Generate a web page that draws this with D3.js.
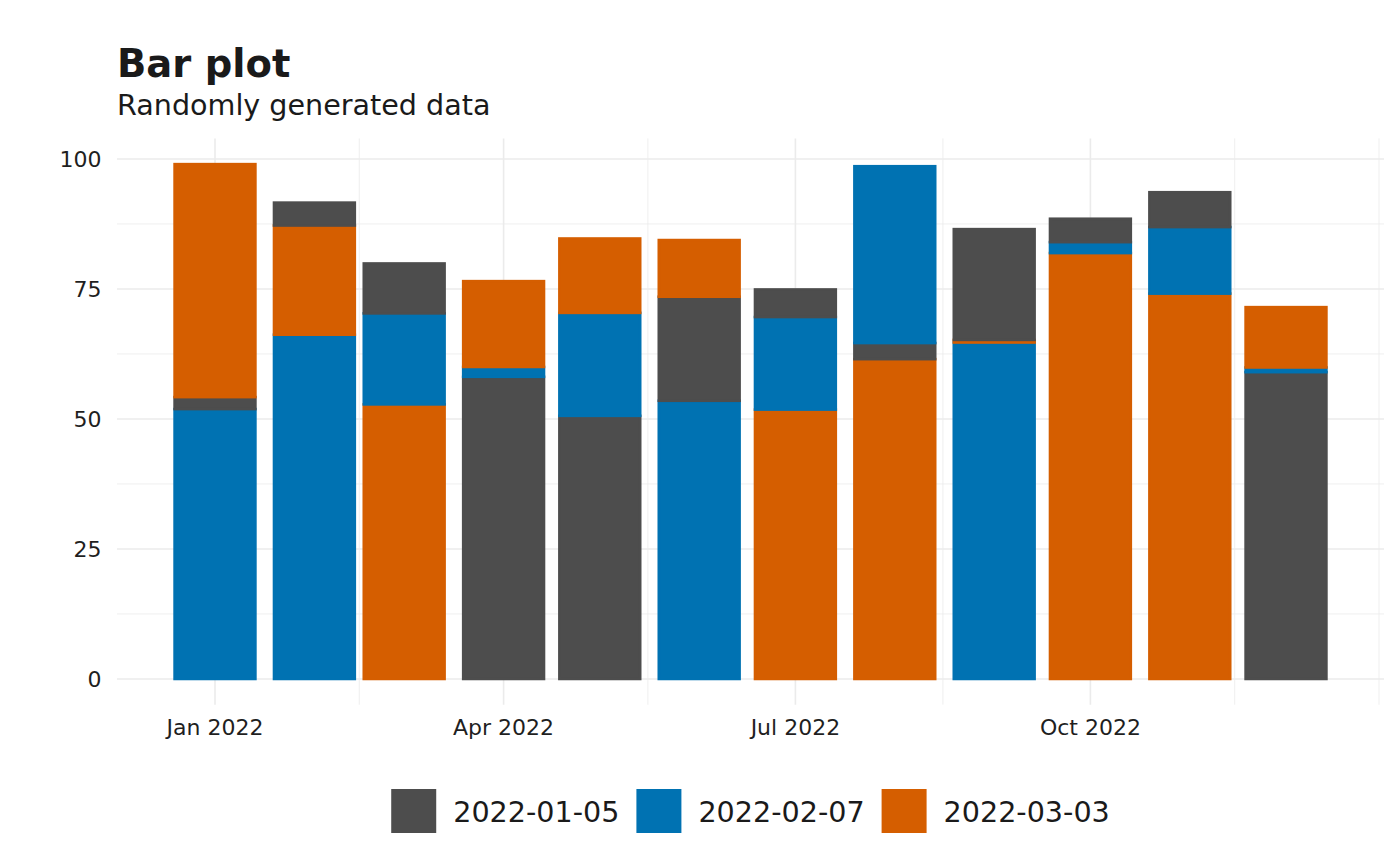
<!DOCTYPE html>
<html>
<head>
<meta charset="utf-8">
<script src="https://cdn.jsdelivr.net/npm/d3@7"></script>
<style>
  body { margin: 0; background: #fff; }
  text { font-family: "DejaVu Sans", sans-serif; }
</style>
</head>
<body>
<div class="chart"></div>
<script>
// Months (bar positions) and the three fill groups
const months = ['2022-01-01', '2022-02-01', '2022-03-01', '2022-04-01', '2022-05-01', '2022-06-01',
  '2022-07-01', '2022-08-01', '2022-09-01', '2022-10-01', '2022-11-01', '2022-12-01']
const groups = ['2022-01-05', '2022-02-07', '2022-03-03']
const groupColors = ['#4D4D4D', '#0072B2', '#D55E00']

// values per group, one per month
const valuesA = [2.3, 4.4, 9.6, 58.1, 50.6, 20.0, 5.3, 3.1, 21.3, 4.5, 6.7, 59.0]
const valuesB = [51.9, 66.2, 17.5, 1.9, 19.8, 53.5, 17.8, 34.0, 64.7, 2.1, 12.8, 0.9]
const valuesC = [44.8, 21.0, 52.8, 16.5, 14.3, 10.9, 51.8, 61.5, 0.5, 81.9, 74.1, 11.6]
const seriesValues = [valuesA, valuesB, valuesC]

// stacking order (bottom to top) per month, as group index
const stackOrder = [[1, 0, 2], [1, 2, 0], [2, 1, 0], [0, 1, 2], [0, 1, 2], [1, 0, 2],
  [2, 1, 0], [2, 0, 1], [1, 2, 0], [2, 1, 0], [2, 1, 0], [0, 1, 2]]

const yTicks = [0, 25, 50, 75, 100]
const yMinor = [12.5, 37.5, 62.5, 87.5]
const xTicks = ['2022-01-01', '2022-04-01', '2022-07-01', '2022-10-01']
const xMinor = ['2022-02-15', '2022-05-16', '2022-08-16', '2022-11-15', '2022-12-30']

const width = 1400
const height = 866
const barDays = 25.2
const DAY = 864e5

const parse = d3.utcParse('%Y-%m-%d')
const dates = months.map(parse)

const svg = d3.select('.chart').append('svg')
  .attr('width', width)
  .attr('height', height)

// build stacked segments
const segments = []
dates.forEach((d, i) => {
  let base = 0
  stackOrder[i].forEach(g => {
    const v = seriesValues[g][i]
    segments.push({ date: d, group: g, y0: base, y1: base + v })
    base += v
  })
})

// x scale: data range + half bar width, expanded 5% (ggplot style)
const half = barDays / 2 * DAY
let x0 = +d3.min(dates) - half
let x1 = +d3.max(dates) + half
const ex = (x1 - x0) * 0.05
const x = d3.scaleUtc()
  .domain([new Date(x0 - ex), new Date(x1 + ex)])
  .range([117, 1384])

const yMax = d3.max(segments, s => s.y1)
const y = d3.scaleLinear()
  .domain([-yMax * 0.05, yMax * 1.05])
  .range([704.7, 138.4])

const panelTop = y.range()[1]
const panelBottom = y.range()[0]

// grid
const grid = svg.append('g')
grid.selectAll('.ymin').data(yMinor).join('line')
  .attr('x1', 117).attr('x2', 1384)
  .attr('y1', d => y(d)).attr('y2', d => y(d))
  .attr('stroke', '#ebebeb').attr('stroke-width', 0.8)
grid.selectAll('.xmin').data(xMinor.map(parse)).join('line')
  .attr('x1', d => x(d)).attr('x2', d => x(d))
  .attr('y1', panelTop).attr('y2', panelBottom)
  .attr('stroke', '#ebebeb').attr('stroke-width', 0.8)
grid.selectAll('.ymaj').data(yTicks).join('line')
  .attr('x1', 117).attr('x2', 1384)
  .attr('y1', d => y(d)).attr('y2', d => y(d))
  .attr('stroke', '#ebebeb').attr('stroke-width', 1.6)
grid.selectAll('.xmaj').data(xTicks.map(parse)).join('line')
  .attr('x1', d => x(d)).attr('x2', d => x(d))
  .attr('y1', panelTop).attr('y2', panelBottom)
  .attr('stroke', '#ebebeb').attr('stroke-width', 1.6)

// bars
svg.append('g').selectAll('rect')
  .data(segments)
  .join('rect')
  .attr('x', d => x(new Date(+d.date - half)))
  .attr('width', d => x(new Date(+d.date + half)) - x(new Date(+d.date - half)))
  .attr('y', d => y(d.y1))
  .attr('height', d => y(d.y0) - y(d.y1))
  .attr('fill', d => groupColors[d.group])
  .attr('stroke', d => groupColors[d.group])
  .attr('stroke-width', 2.6)

// axes labels
const fmt = d3.utcFormat('%b %Y')
svg.append('g').selectAll('text')
  .data(xTicks.map(parse))
  .join('text')
  .attr('x', d => x(d))
  .attr('y', 735)
  .attr('text-anchor', 'middle')
  .attr('font-size', 22)
  .attr('fill', '#1f1f1f')
  .text(d => fmt(d))

svg.append('g').selectAll('text')
  .data(yTicks)
  .join('text')
  .attr('x', 101.5)
  .attr('y', d => y(d) + 8.5)
  .attr('text-anchor', 'end')
  .attr('font-size', 22)
  .attr('fill', '#1f1f1f')
  .text(d => d)

// title + subtitle
svg.append('text')
  .attr('x', 117).attr('y', 77)
  .attr('font-size', 38.5).attr('font-weight', 'bold')
  .attr('fill', '#1a1a1a')
  .text('Bar plot')
svg.append('text')
  .attr('x', 117).attr('y', 115)
  .attr('font-size', 28.6)
  .attr('fill', '#1a1a1a')
  .text('Randomly generated data')

// legend, centred under the panel
const legend = svg.append('g')
const items = legend.selectAll('g').data(groups).join('g')
items.append('rect')
  .attr('width', 45).attr('height', 44)
  .attr('y', 789)
  .attr('fill', (d, i) => groupColors[i])
const labels = items.append('text')
  .attr('y', 822)
  .attr('font-size', 28.6)
  .attr('fill', '#1a1a1a')
  .text(d => d)

const gapKey = 17
const gapItem = 17
const widths = labels.nodes().map(n => n.getComputedTextLength())
const total = d3.sum(widths) + groups.length * (45 + gapKey) + (groups.length - 1) * gapItem
let cx = (117 + 1384) / 2 - total / 2
items.each(function (d, i) {
  const g = d3.select(this)
  g.select('rect').attr('x', cx)
  g.select('text').attr('x', cx + 45 + gapKey)
  cx += 45 + gapKey + widths[i] + gapItem
})
</script>
</body>
</html>
